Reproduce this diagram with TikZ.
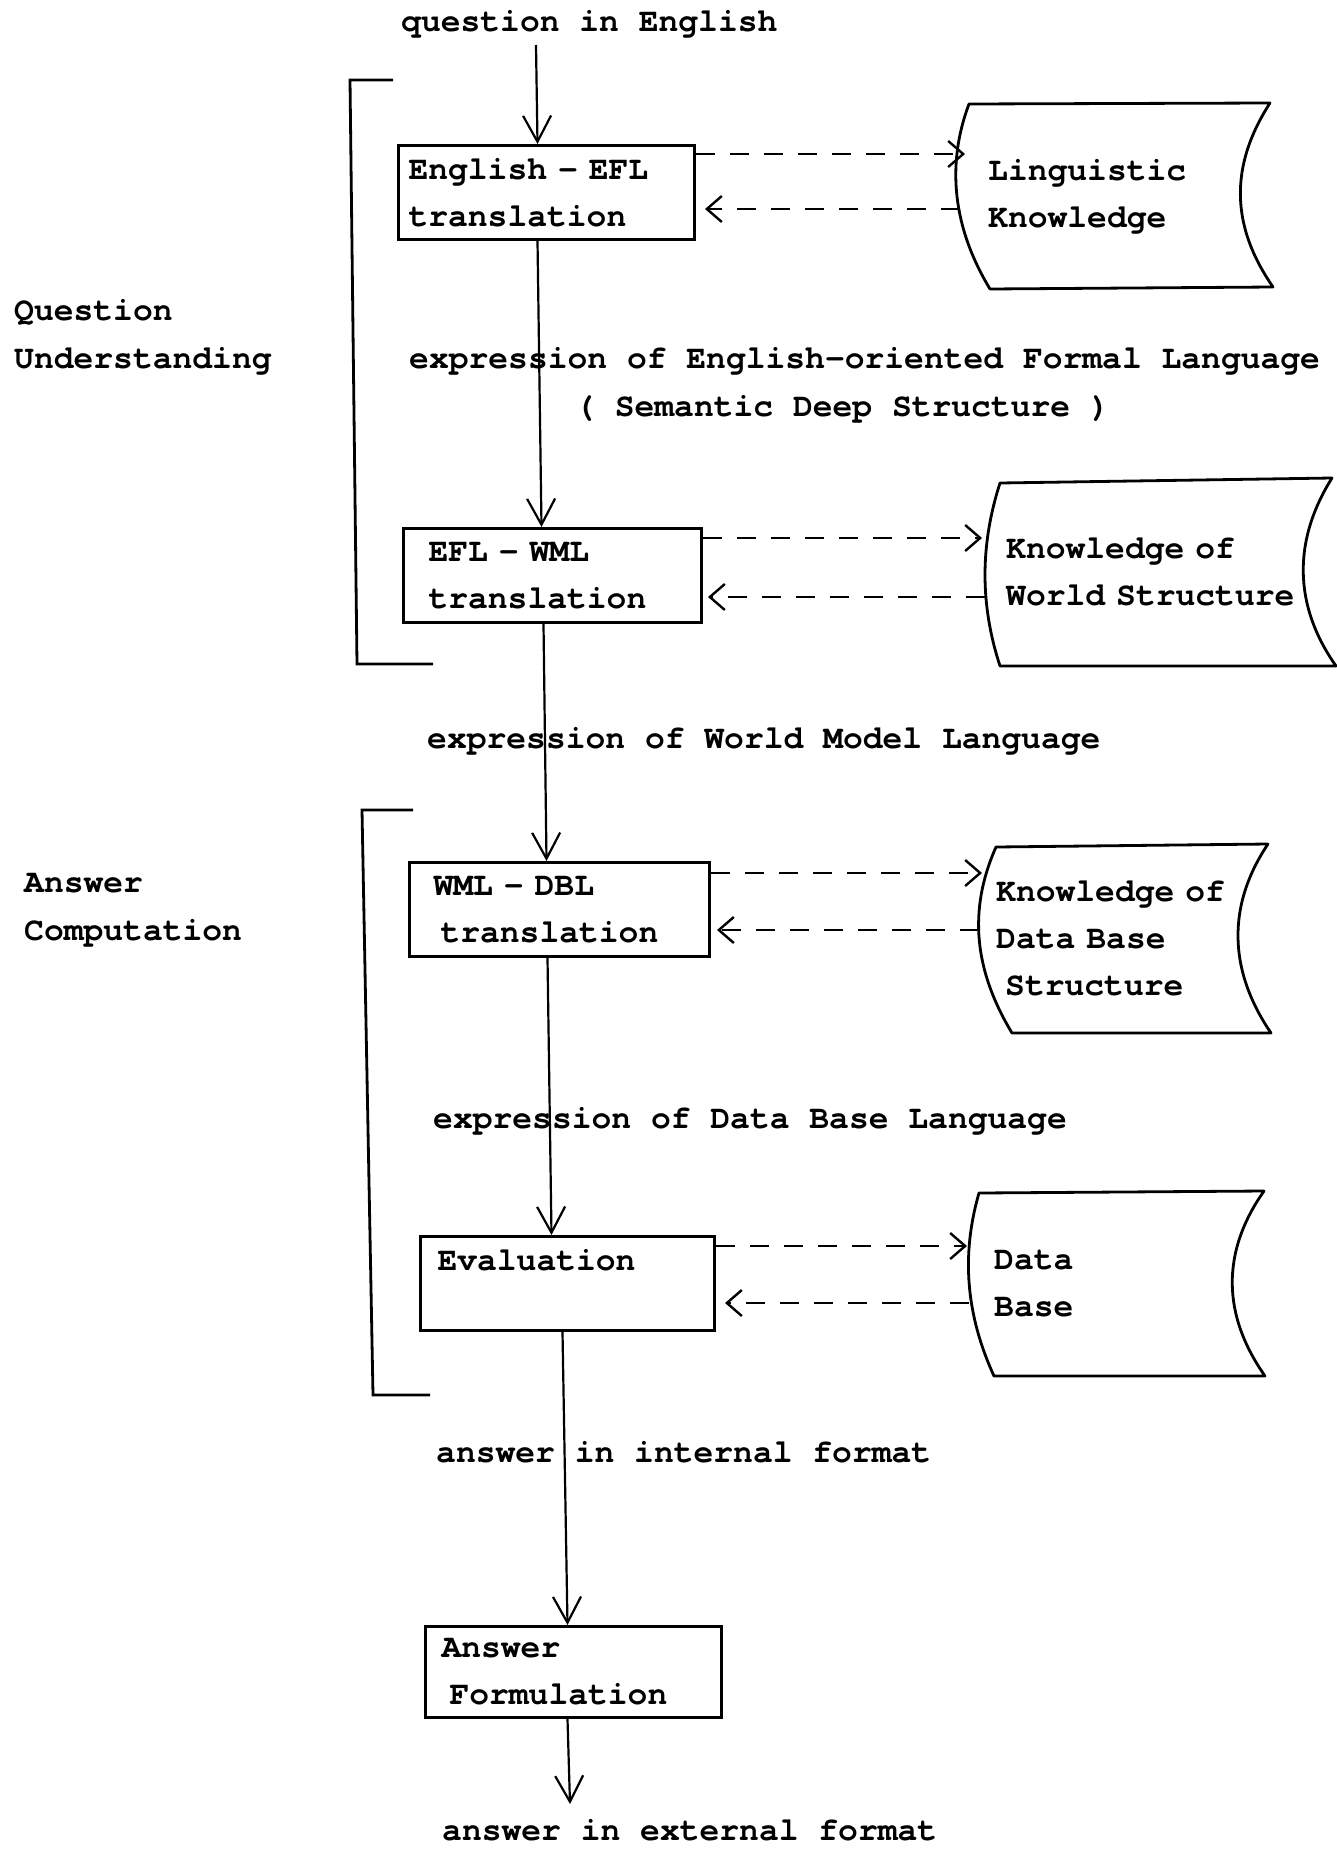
\documentclass[tikz,border=0pt]{standalone}
\usepackage{fontspec}
\setmainfont{TeX Gyre Cursor}
\usetikzlibrary{arrows.meta,calc}
\begin{document}
\begin{tikzpicture}[x=1pt,y=-1pt,
  every node/.style={font=\fontsize{33}{47}\selectfont\bfseries},
  lbl/.style={inner sep=0pt, anchor=base west},
  box/.style={draw, line width=3pt, inner ysep=0pt, anchor=north west, align=left},
  store/.style={inner ysep=0pt, anchor=north west, align=left},
  outline/.style={line width=2.8pt, line join=round},
  bracket/.style={line width=2.8pt},
  arr/.style={line width=2.2pt, -{Straight Barb[length=26pt,width=28pt]}},
  dar/.style={line width=2.4pt, dash pattern=on 19pt off 15pt, -{Straight Barb[length=15pt,width=26pt]}}]
\useasboundingbox (0,0) rectangle (1336,1849);

% boxes
\node[box, inner xsep=10pt, text width=276pt, minimum width=296pt, minimum height=94pt] (b1) at (397,144) {English – EFL\\translation};
\node[box, inner xsep=25pt, text width=248pt, minimum width=298pt, minimum height=94pt] (b2) at (402,527) {EFL – WML\\translation};
\node[box, inner xsep=24pt, text width=252pt, minimum width=300pt, minimum height=94pt] (b3) at (408,861) {WML – DBL\\\hspace*{7pt}translation};
\node[box, inner xsep=17pt, text width=260pt, minimum width=294pt, minimum height=94pt] (b4) at (419,1235) {Evaluation\\\mbox{}};
\node[box, inner xsep=16pt, text width=264pt, minimum width=296pt, minimum height=91pt] (b5) at (424,1625) {Answer\\\hspace*{8pt}Formulation};

% stored-data nodes (text) and their outlines
\node[store, inner xsep=31pt, text width=254pt, minimum width=316pt, minimum height=185pt] (lk) at (957,104) {Linguistic\\Knowledge};
\node[store, inner xsep=21pt, text width=309pt, minimum width=351pt, minimum height=188pt] (kw) at (985,478) {Knowledge of\\World Structure};
\node[store, inner xsep=17pt, text width=258pt, minimum width=292pt, minimum height=189pt] (kd) at (979,844) {Knowledge of\\Data Base\\\hspace*{9pt}Structure};
\node[store, inner xsep=25pt, text width=246pt, minimum width=296pt, minimum height=185pt] (db) at (969,1191) {Data\\Base};

\draw[outline] (969,104) -- (1270,103) .. controls (1230,165) and (1230,225) .. (1273,287) -- (990,289) .. controls (953,228) and (946,165) .. (969,104) -- cycle;
\draw[outline] (1000,483) -- (1332,478) .. controls (1293,540) and (1293,605) .. (1336,666) -- (1000,666) .. controls (980,605) and (980,545) .. (1000,483) -- cycle;
\draw[outline] (996,847) -- (1268,844) .. controls (1227,905) and (1228,970) .. (1271,1033) -- (1012,1033) .. controls (974,970) and (968,910) .. (996,847) -- cycle;
\draw[outline] (979,1193) -- (1264,1191) .. controls (1221,1252) and (1222,1315) .. (1265,1376) -- (994,1376) .. controls (966,1315) and (961,1255) .. (979,1193) -- cycle;

% labels
\node[lbl] (q) at (401,32) {question in English};
\node[lbl] (qu1) at (14,320) {Question};
\node[lbl] (qu2) at (14,368) {Understanding};
\node[lbl] (e1a) at (409,368) {expression of English—oriented Formal Language};
\node[lbl] (e1b) at (575,416) {( Semantic Deep Structure )};
\node[lbl] (e2) at (427,748) {expression of World Model Language};
\node[lbl] (ac1) at (24,892) {Answer};
\node[lbl] (ac2) at (24,940) {Computation};
\node[lbl] (e3) at (433,1128) {expression of Data Base Language};
\node[lbl] (e4) at (436,1462) {answer in internal format};
\node[lbl] (e5) at (442,1840) {answer in external format};

% brackets
\draw[bracket] (393,80) -- (350,80) -- (357,664) -- (433,664);
\draw[bracket] (413,810) -- (362,810) -- (373,1395) -- (430,1395);

% main flow
\coordinate (t0) at (536,45);
\coordinate (t1) at (570,1804);
\draw[arr] (t0) -- ([xshift=-9pt]b1.north);
\draw[arr] ([xshift=-9pt]b1.south) -- ([xshift=-11pt]b2.north);
\draw[arr] ([xshift=-9pt]b2.south) -- ([xshift=-13pt]b3.north);
\draw[arr] ([xshift=-12pt]b3.south) -- ([xshift=-16pt]b4.north);
\draw[arr] ([xshift=-5pt]b4.south) -- ([xshift=-6pt]b5.north);
\draw[arr] ([xshift=-6pt]b5.south) -- (t1);

% knowledge access
\draw[dar] ($(b1.north east)+(0,10)$) -- ($(b1.north east -| lk.west)+(8,10)$);
\draw[dar] ($(b1.north east -| lk.west)+(3,65)$) -- ($(b1.north east)+(9,65)$);
\draw[dar] ($(b2.north east)+(0,11)$) -- ($(b2.north east -| kw.west)+(-3,11)$);
\draw[dar] ($(b2.north east -| kw.west)+(0,70)$) -- ($(b2.north east)+(5,70)$);
\draw[dar] ($(b3.north east)+(0,12)$) -- ($(b3.north east -| kd.west)+(3,12)$);
\draw[dar] ($(b3.north east -| kd.west)+(0,69)$) -- ($(b3.north east)+(6,69)$);
\draw[dar] ($(b4.north east)+(0,11)$) -- ($(b4.north east -| db.west)+(-2,11)$);
\draw[dar] ($(b4.north east -| db.west)+(0,68)$) -- ($(b4.north east)+(9,68)$);
\end{tikzpicture}
\end{document}
